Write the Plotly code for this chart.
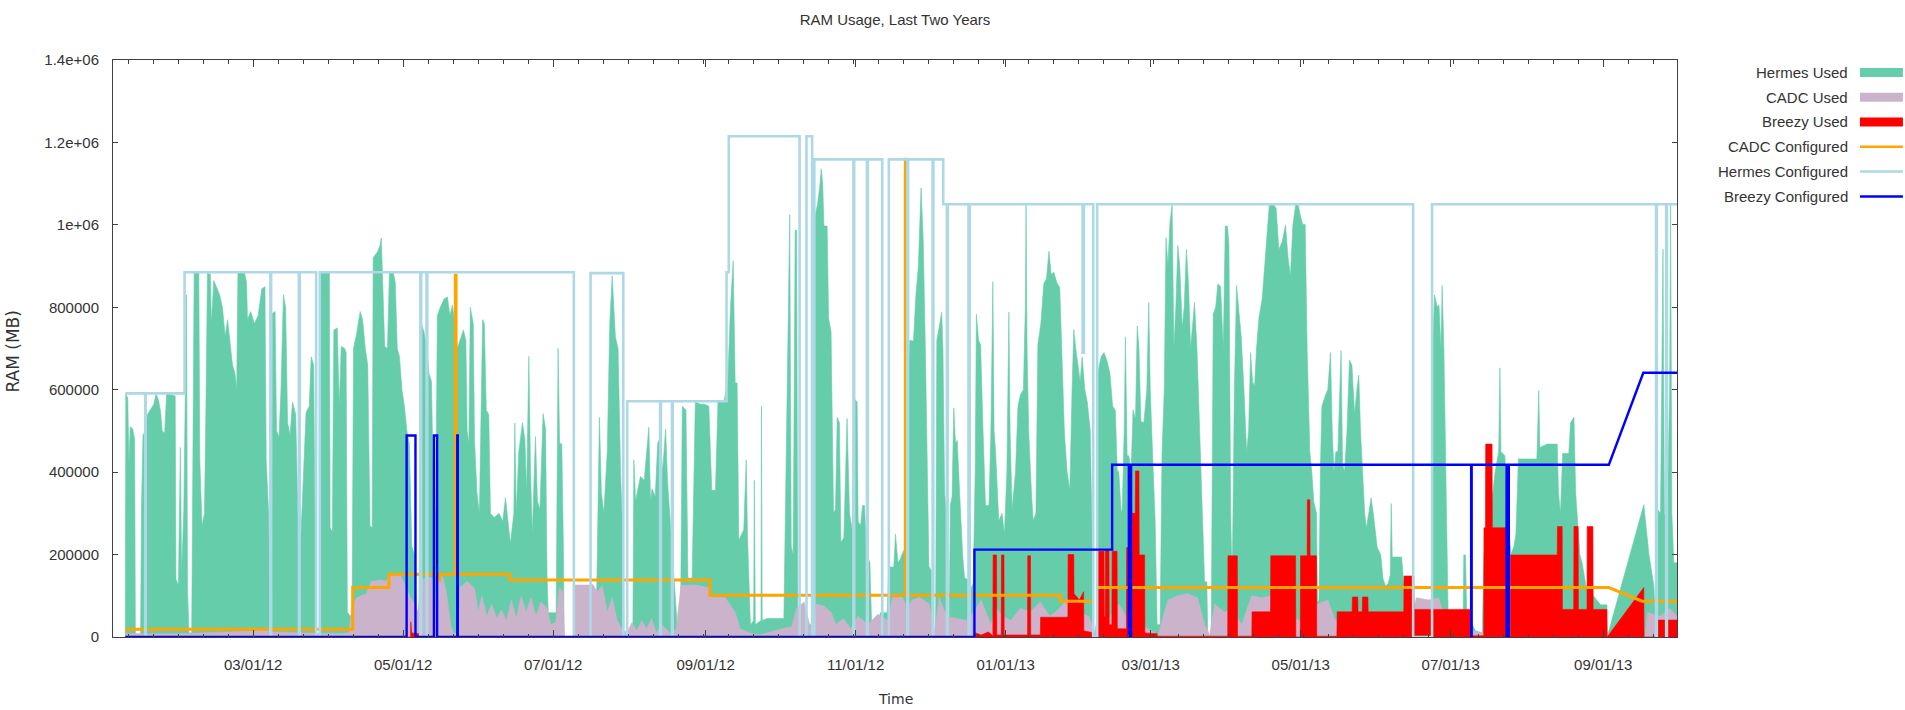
import plotly.graph_objects as go
import pandas as pd

# ---------------- data (day offsets from 2012-01-01, values in thousands of MB) ----------------
BASE_DATE = "2012-01-01"
X_START_DAY = 3.0
X_END_DAY = 639.0

hermes_used = [
    (8.0, 0), (8.2, 590), (9.0, 580), (9.5, 420), (10.0, 510), (11.0, 505), (11.8, 480), (12.1, 0),
    (14.2, 0), (14.6, 320), (15.2, 490), (16.3, 500), (17.0, 540), (18.5, 555), (19.6, 565), (20.5, 590),
    (21.5, 575), (22.4, 545), (23.0, 500), (24.0, 495), (24.8, 590), (26.5, 588), (28.3, 585), (28.6, 140),
    (29.6, 125), (30.4, 460), (30.9, 150), (31.8, 310), (32.5, 700), (32.9, 830), (33.3, 120), (33.9, 10),
    (35.0, 10), (35.6, 450), (36.0, 883), (37.9, 883), (38.3, 430), (39.2, 270), (40.2, 300), (40.8, 560),
    (41.4, 883), (42.6, 880), (43.0, 760), (44.0, 865), (45.3, 845), (46.4, 830), (47.5, 800), (48.6, 730),
    (49.6, 770), (50.7, 700), (51.6, 660), (52.6, 640), (53.3, 600), (53.8, 883), (56.5, 883), (57.3, 860),
    (57.7, 770), (59.0, 790), (60.5, 760), (62.0, 780), (63.5, 845), (64.8, 850), (65.3, 430), (66.3, 300),
    (66.9, 0), (67.4, 0), (67.8, 785), (68.9, 790), (69.5, 500), (70.5, 485), (71.3, 600), (72.3, 830),
    (73.2, 800), (74.0, 520), (75.0, 490), (76.0, 570), (77.3, 540), (78.2, 300), (78.6, 0), (79.1, 200),
    (80.1, 355), (81.5, 545), (82.8, 560), (83.6, 680), (84.6, 660), (85.2, 300), (85.6, 0), (87.1, 0),
    (87.4, 883), (91.0, 883), (91.3, 265), (92.2, 255), (92.8, 745), (94.2, 750), (95.0, 560), (95.8, 705),
    (97.2, 700), (97.8, 690), (98.3, 60), (100.2, 45), (100.8, 700), (102.2, 740), (103.5, 790), (104.5, 770),
    (105.6, 700), (106.6, 660), (107.5, 270), (108.4, 265), (108.8, 920), (110.6, 935), (111.6, 950),
    (112.1, 968), (112.6, 850), (113.5, 705), (114.6, 700), (115.4, 883), (117.0, 883), (117.8, 860),
    (118.6, 700), (119.5, 680), (120.5, 600), (121.5, 560), (122.5, 500), (123.5, 470), (124.5, 220),
    (125.6, 200), (126.6, 30), (127.3, 5), (128.4, 760), (129.5, 740), (130.5, 700), (131.5, 640),
    (132.5, 620), (133.4, 320), (134.2, 300), (134.9, 780), (136.1, 800), (137.6, 820), (139.0, 825),
    (140.0, 780), (141.0, 805), (142.0, 760), (143.0, 700), (144.1, 720), (145.5, 745), (146.5, 720),
    (147.0, 500), (147.7, 470), (148.3, 800), (149.5, 760), (150.0, 480), (151.0, 350), (152.0, 300),
    (153.3, 770), (154.0, 760), (154.8, 550), (155.8, 540), (156.5, 300), (158.0, 290), (160.0, 300),
    (161.5, 280), (162.6, 338), (163.5, 280), (164.6, 226), (166.0, 300), (166.4, 519), (167.0, 300),
    (168.0, 449), (169.5, 520), (170.5, 480), (171.2, 350), (172.1, 681), (172.8, 400), (173.5, 250),
    (174.8, 486), (175.6, 330), (176.6, 310), (177.9, 542), (178.9, 505), (179.5, 150), (180.0, 59),
    (183.2, 59), (184.0, 700), (184.6, 470), (185.5, 468), (186.2, 200), (186.4, 0), (190.4, 0),
    (190.6, 10), (199.5, 30), (200.8, 533), (201.6, 350), (202.6, 300), (204.0, 450), (205.0, 760),
    (206.0, 876), (207.3, 728), (208.4, 700), (209.4, 403), (210.5, 200), (210.8, 10), (214.4, 20),
    (214.8, 430), (215.5, 330), (217.5, 390), (219.0, 380), (220.9, 509), (221.6, 330), (222.2, 360),
    (223.5, 340), (224.5, 470), (225.6, 486), (226.5, 400), (227.7, 505), (228.5, 380), (229.7, 270),
    (231.0, 150), (232.4, 30), (233.8, 40), (234.5, 560), (236.0, 550), (236.8, 143), (238.5, 143),
    (239.8, 570), (241.9, 565), (243.5, 565), (245.3, 560), (246.5, 356), (248.0, 356), (249.0, 570),
    (251.4, 570), (253.0, 620), (254.1, 800), (255.2, 913), (256.0, 616), (256.8, 616), (257.5, 235),
    (259.5, 260), (260.5, 430), (261.0, 250), (262.2, 30), (263.5, 40), (263.8, 380), (264.2, 30),
    (266.5, 40), (266.7, 560), (267.0, 40), (269.0, 45), (275.8, 45), (276.5, 300), (277.2, 600),
    (278.0, 900), (278.2, 1025), (278.8, 220), (279.6, 200), (280.4, 987), (281.0, 987), (281.5, 30),
    (287.3, 30), (287.6, 997), (289.5, 1050), (290.5, 1100), (291.0, 1136), (291.6, 1100), (292.1, 997),
    (293.4, 997), (294.0, 774), (295.0, 740), (296.0, 300), (296.8, 310), (297.5, 533), (298.4, 520),
    (299.0, 230), (300.2, 240), (301.5, 530), (302.5, 300), (303.6, 260), (304.3, 579), (305.6, 570),
    (306.0, 280), (307.0, 270), (307.8, 319), (308.6, 319), (309.5, 200), (310.8, 180), (311.5, 30),
    (314.5, 30), (315.0, 59), (317.8, 59), (318.5, 170), (320.5, 170), (321.2, 250), (322.2, 180),
    (323.2, 190), (324.5, 210), (325.3, 170), (326.0, 574), (327.0, 720), (328.5, 718), (329.5, 830),
    (330.5, 900), (331.6, 1090), (332.5, 960), (333.4, 681), (334.3, 400), (334.8, 171), (335.8, 160),
    (336.1, 10), (337.5, 10), (338.0, 720), (338.8, 746), (340.0, 788), (340.5, 700), (341.2, 347),
    (342.0, 300), (342.4, 0), (343.0, 0), (343.5, 320), (344.2, 340), (344.9, 556), (345.6, 470),
    (346.3, 477), (347.6, 310), (348.5, 200), (349.3, 143), (350.5, 140), (350.9, 0), (351.5, 0),
    (352.0, 120), (352.8, 130), (353.6, 400), (354.1, 783), (355.0, 720), (355.8, 709), (356.8, 500),
    (357.8, 319), (359.2, 319), (360.0, 500), (360.8, 862), (361.3, 500), (361.9, 449), (363.2, 282),
    (364.5, 300), (365.5, 250), (366.5, 400), (367.3, 788), (367.8, 500), (368.6, 310), (370.0, 400),
    (371.0, 560), (372.0, 588), (373.2, 600), (374.0, 800), (374.3, 1048), (374.7, 700), (375.4, 495),
    (376.5, 350), (377.2, 282), (378.3, 300), (379.1, 709), (380.3, 760), (381.5, 857), (382.6, 870),
    (383.6, 936), (384.5, 880), (385.6, 885), (386.8, 860), (388.0, 848), (388.8, 700), (389.9, 495),
    (391.0, 400), (392.1, 356), (393.0, 600), (393.7, 746), (394.5, 700), (395.4, 653), (396.3, 620),
    (397.1, 680), (398.2, 600), (399.2, 570), (400.4, 500), (401.2, 235), (401.8, 0), (403.3, 0),
    (403.6, 644), (404.8, 680), (406.0, 690), (407.2, 670), (408.4, 640), (409.5, 560), (410.6, 550),
    (411.4, 400), (412.0, 403), (413.0, 300), (413.4, 310), (414.2, 500), (414.7, 728), (415.4, 440),
    (416.1, 440), (417.0, 400), (417.8, 551), (418.8, 530), (419.5, 755), (420.2, 700), (421.0, 523),
    (422.2, 520), (423.4, 600), (424.2, 811), (424.8, 600), (426.0, 403), (426.8, 280), (427.6, 30),
    (428.8, 30), (429.6, 449), (430.5, 600), (431.2, 969), (432.0, 900), (432.8, 1006), (433.7, 1048),
    (434.4, 700), (435.2, 800), (436.0, 950), (436.8, 900), (437.8, 750), (438.6, 800), (439.5, 941),
    (440.4, 850), (441.2, 700), (442.0, 750), (442.8, 811), (443.8, 700), (445.0, 495), (446.0, 300),
    (446.9, 134), (447.8, 134), (448.2, 0), (449.6, 0), (450.0, 500), (450.4, 783), (451.4, 800),
    (452.3, 857), (453.4, 850), (454.5, 700), (455.3, 997), (456.2, 997), (456.8, 950), (457.5, 300),
    (458.1, 125), (459.0, 600), (459.9, 853), (460.8, 800), (461.8, 728), (462.9, 600), (464.0, 449),
    (464.8, 500), (465.6, 690), (466.4, 620), (467.2, 607), (468.0, 700), (469.0, 774), (470.3, 820),
    (471.3, 900), (472.3, 1000), (473.2, 1048), (475.1, 1048), (476.0, 1040), (477.1, 940), (478.5, 960),
    (479.8, 1000), (480.8, 922), (481.8, 876), (482.8, 1000), (483.9, 1048), (485.0, 1048), (485.9, 1020),
    (486.8, 1001), (487.8, 1001), (488.6, 700), (489.7, 449), (490.5, 400), (491.3, 328), (492.4, 300),
    (492.8, 87), (493.4, 87), (494.0, 412), (494.6, 560), (496.1, 588), (497.0, 600), (498.1, 690),
    (498.8, 500), (499.5, 400), (500.3, 450), (501.1, 449), (502.0, 600), (502.4, 695), (503.0, 420),
    (503.8, 400), (504.8, 500), (505.8, 672), (506.8, 660), (507.9, 540), (508.8, 600), (509.6, 635),
    (510.3, 500), (511.0, 420), (512.0, 300), (512.7, 263), (513.6, 300), (514.6, 338), (515.5, 300),
    (516.5, 250), (517.1, 217), (518.5, 200), (519.5, 140), (520.5, 124), (521.5, 130), (522.4, 150),
    (522.8, 324), (523.2, 194), (527.0, 194), (528.0, 124), (531.6, 120), (531.7, 0), (539.4, 0),
    (539.6, 700), (540.4, 830), (541.5, 800), (542.2, 806), (543.0, 700), (543.5, 853), (544.2, 700),
    (544.9, 449), (545.5, 250), (546.0, 30), (552.0, 30), (552.3, 199), (553.0, 199), (553.5, 50),
    (555.0, 40), (557.0, 15), (559.8, 10), (560.5, 200), (563.2, 300), (565.0, 400), (566.5, 450),
    (567.0, 653), (567.4, 450), (569.0, 440), (570.0, 300), (571.5, 200), (572.7, 220), (573.5, 250),
    (574.5, 432), (582.0, 432), (582.8, 598), (583.2, 460), (586.2, 468), (590.3, 468), (590.8, 350),
    (591.6, 300), (592.5, 445), (595.0, 445), (595.7, 520), (597.1, 533), (597.8, 350), (598.4, 300),
    (599.5, 200), (600.4, 180), (602.0, 124), (603.8, 124), (605.0, 100), (607.9, 78), (610.5, 78),
    (610.6, 0), (625.5, 321), (627.6, 200), (629.6, 124), (630.5, 10), (631.0, 310), (632.3, 300),
    (633.3, 941), (633.9, 300), (635.0, 280), (636.0, 600), (636.4, 1048), (636.9, 300), (637.7, 180),
    (639.0, 180),
]

cadc_used = [
    (8.0, 0), (8.2, 8), (30.0, 8), (40.0, 10), (55.0, 12), (64.0, 15), (66.0, 22), (68.0, 12), (80.0, 10),
    (95.0, 8), (99.0, 10), (100.0, 70), (102.0, 95), (106.0, 105), (108.0, 135), (112.0, 138), (114.0, 135),
    (115.3, 148), (120.0, 150), (122.0, 124), (124.0, 95), (125.5, 82), (127.0, 60), (128.5, 140),
    (132.0, 145), (133.5, 140), (134.0, 60), (135.0, 148), (137.0, 146), (138.5, 110), (140.5, 25),
    (141.5, 8), (143.5, 15), (144.0, 120), (147.0, 135), (150.0, 118), (151.5, 60), (153.0, 100),
    (155.0, 50), (157.0, 80), (159.0, 45), (161.0, 65), (163.0, 40), (165.0, 90), (167.0, 45), (169.0, 100),
    (171.0, 60), (173.0, 95), (175.0, 50), (177.0, 85), (179.5, 70), (181.0, 30), (183.0, 35), (184.5, 120),
    (186.0, 110), (186.6, 0), (190.3, 0), (190.6, 126), (197.0, 126), (198.0, 128), (200.0, 110),
    (202.0, 125), (204.0, 60), (206.0, 95), (208.0, 40), (210.0, 20), (212.0, 10), (214.0, 35), (216.0, 15),
    (218.0, 40), (220.0, 20), (222.0, 45), (224.0, 10), (226.0, 30), (228.0, 20), (230.0, 5), (232.0, 20),
    (234.0, 126), (240.0, 126), (245.0, 120), (246.0, 97), (252.0, 95), (256.0, 60), (258.0, 20),
    (262.0, 10), (266.0, 5), (270.0, 12), (275.0, 20), (279.0, 25), (281.0, 70), (284.0, 85), (286.0, 40),
    (287.3, 5), (289.0, 80), (292.0, 75), (295.0, 60), (297.0, 30), (300.0, 45), (303.0, 20), (306.0, 50),
    (310.0, 30), (314.0, 55), (318.0, 40), (320.0, 95), (324.0, 97), (326.0, 70), (328.0, 90), (331.0, 96),
    (335.0, 80), (337.0, 10), (339.0, 95), (342.0, 50), (346.0, 45), (350.0, 40), (353.0, 60), (356.0, 90),
    (360.0, 30), (362.0, 70), (365.0, 50), (368.0, 40), (372.0, 70), (376.0, 60), (380.0, 85), (384.0, 50),
    (388.0, 70), (392.0, 100), (396.0, 60), (400.0, 50), (402.0, 10), (404.0, 60), (408.0, 45), (412.0, 80),
    (416.0, 40), (420.0, 30), (424.0, 20), (428.0, 5), (432.0, 90), (436.0, 100), (440.0, 105), (444.0, 95),
    (447.0, 30), (449.0, 5), (451.0, 80), (455.0, 60), (458.0, 70), (462.0, 30), (466.0, 100), (470.0, 95),
    (474.0, 100), (478.0, 90), (480.0, 60), (485.0, 40), (490.0, 50), (493.0, 80), (497.0, 90), (500.0, 40),
    (505.0, 30), (515.0, 20), (525.0, 30), (531.0, 40), (533.0, 95), (538.0, 90), (542.0, 95), (545.0, 40),
    (550.0, 20), (560.0, 10), (570.0, 15), (590.0, 20), (605.0, 20), (611.0, 10), (615.0, 0), (626.0, 0),
    (627.0, 60), (632.0, 50), (636.0, 70), (639.0, 50),
]

breezy_used = [
    (8.0, 0), (124.0, 0), (124.1, 37), (124.5, 10), (127.3, 8), (127.4, 0), (142.9, 0), (143.0, 6),
    (143.3, 0), (353.5, 0), (353.7, 10), (356.0, 5), (359.0, 12), (360.8, 3), (360.9, 199), (362.3, 199),
    (362.4, 5), (364.2, 5), (364.3, 199), (365.3, 199), (365.4, 5), (374.9, 5), (375.0, 197), (376.1, 197),
    (376.2, 5), (380.1, 5), (380.2, 48), (391.3, 48), (391.4, 200), (393.7, 200), (393.8, 105), (396.0, 90),
    (397.7, 110), (397.8, 15), (401.8, 10), (401.9, 0), (403.4, 0), (403.5, 208), (406.0, 208), (406.1, 50),
    (406.5, 50), (406.6, 210), (408.0, 210), (408.1, 30), (409.2, 30), (409.3, 208), (411.3, 208),
    (411.4, 20), (415.1, 20), (415.2, 217), (416.5, 217), (416.6, 0), (417.4, 0), (417.5, 300), (418.7, 300),
    (418.8, 403), (420.2, 403), (420.3, 199), (422.5, 199), (422.6, 10), (427.6, 8), (427.7, 2), (456.3, 2),
    (456.4, 197), (460.2, 197), (460.3, 2), (466.1, 2), (466.2, 61), (473.7, 61), (473.8, 197), (483.9, 197),
    (484.0, 0), (485.8, 0), (485.9, 197), (488.6, 197), (488.7, 333), (489.7, 333), (489.8, 197),
    (492.4, 197), (492.5, 2), (500.7, 2), (500.8, 61), (506.9, 61), (507.0, 97), (509.2, 97), (509.3, 61),
    (511.0, 61), (511.1, 97), (513.3, 97), (513.4, 61), (527.9, 61), (528.0, 148), (532.0, 148), (532.1, 67),
    (555.0, 67), (555.1, 3), (560.4, 3), (560.5, 265), (561.1, 265), (561.2, 468), (563.8, 468),
    (563.9, 265), (569.7, 265), (569.8, 0), (571.2, 0), (571.3, 199), (590.3, 199), (590.4, 268),
    (592.3, 268), (592.4, 67), (597.0, 67), (597.1, 268), (598.8, 268), (598.9, 67), (602.4, 67),
    (602.5, 268), (604.8, 268), (604.9, 67), (610.5, 67), (610.6, 0), (625.5, 120), (625.6, 0), (630.9, 0),
    (631.0, 41), (639.0, 41),
]

cadc_configured = [
    (8.0, 18.6), (100.5, 18.6), (100.5, 120), (115.2, 120), (115.2, 152), (135.4, 152), (135.4, 138),
    (135.9, 138), (135.9, 152), (142.2, 152), (142.2, 878), (142.5, 878), (142.5, 152), (164.4, 152),
    (164.4, 138), (245.7, 138), (245.7, 101), (325.2, 101), (325.2, 1159), (325.4, 1159), (325.4, 101),
    (388.3, 101), (388.3, 87), (401.9, 87), None, (403.5, 120), (611.3, 120), (624.8, 87), (639.0, 87),
]

hermes_configured = [
    (8.0, 591), (16.1, 591), (16.1, 0), (16.3, 0), (16.3, 591), (32.1, 591), (32.1, 885), (67.0, 885),
    (67.0, 0), (67.3, 0), (67.3, 885), (78.6, 885), (78.6, 0), (78.9, 0), (78.9, 885), (85.6, 885),
    (85.6, 0), (87.1, 0), (87.1, 885), (128.0, 885), (128.0, 0), (128.3, 0), (128.3, 885), (130.5, 885),
    (130.5, 0), (130.8, 0), (130.8, 885), (190.4, 885), (190.4, 0), (197.2, 0), (197.2, 883), (210.5, 883),
    (210.5, 0), (212.1, 0), (212.1, 572), (225.5, 572), (225.5, 0), (225.8, 0), (225.8, 572), (230.3, 572),
    (230.3, 0), (230.6, 0), (230.6, 572), (252.5, 572), (252.5, 885), (253.4, 885), (253.4, 1215),
    (282.2, 1215), (282.2, 0), (285.0, 0), (285.0, 1215), (287.3, 1215), (287.3, 0), (288.2, 0),
    (288.2, 1159), (304.1, 1159), (304.1, 0), (304.4, 0), (304.4, 1159), (309.6, 1159), (309.6, 0),
    (309.9, 0), (309.9, 1159), (315.8, 1159), (315.8, 0), (318.5, 0), (318.5, 1159), (326.0, 1159),
    (326.0, 0), (326.3, 0), (326.3, 1159), (336.3, 1159), (336.3, 0), (336.6, 0), (336.6, 1159),
    (340.6, 1159), (340.6, 1050), (342.1, 1050), (342.1, 0), (342.4, 0), (342.4, 1050), (350.9, 1050),
    (350.9, 0), (351.4, 0), (351.4, 1050), (397.3, 1050), (397.3, 690), (397.8, 690), (397.8, 1050),
    (401.6, 1050), (401.6, 0), (403.2, 0), (403.2, 1050), (531.7, 1050), (531.7, 0), (539.4, 0),
    (539.4, 1050), (630.5, 1050), (630.5, 0), (630.8, 0), (630.8, 1050), (634.6, 1050), (634.6, 0),
    (634.9, 0), (634.9, 1050), (639.0, 1050),
]

breezy_configured = [
    (8.0, 0), (122.4, 0), (122.4, 489), (126.0, 489), (126.0, 0), (133.5, 0), (133.5, 489), (134.8, 489),
    (134.8, 0), (143.0, 0), (143.0, 489), (143.2, 489), (143.2, 0), (353.3, 0), (353.3, 212), (409.3, 212),
    (409.3, 418), (416.1, 418), (416.1, 0), (417.0, 0), (417.0, 418), (555.3, 418), (555.3, 0), (555.5, 0),
    (555.5, 418), (569.7, 418), (569.7, 0), (570.6, 0), (570.6, 418), (611.3, 418), (625.3, 641),
    (639.0, 641),
]

series_names = ["Hermes Used", "CADC Used", "Breezy Used",
                "CADC Configured", "Hermes Configured", "Breezy Configured"]
series_colors = ["#66cdaa", "#cbb4cb", "#ff0000", "#ffa500", "#add8e6", "#0000ff"]

y_tick_values = [0, 200000, 400000, 600000, 800000, 1000000, 1200000, 1400000]
y_tick_labels = ["0", "200000", "400000", "600000", "800000", "1e+06", "1.2e+06", "1.4e+06"]

TITLE = "RAM Usage, Last Two Years"
X_TITLE = "Time"
Y_TITLE = "RAM (MB)"

# ---------------- build ----------------
base = pd.Timestamp(BASE_DATE)


def to_xy(pairs):
    xs, ys = [], []
    for p in pairs:
        if p is None:
            xs.append(None)
            ys.append(None)
        else:
            xs.append(base + pd.Timedelta(days=p[0]))
            ys.append(p[1] * 1000)
    return xs, ys


FONT = "Liberation Sans, Arial, sans-serif"
FS = 15
TXT = "#333333"
AX = "#404040"

fig = go.Figure()

fills = [hermes_used, cadc_used, breezy_used]
for i, data in enumerate(fills):
    x, y = to_xy(data)
    fig.add_trace(go.Scatter(x=x, y=y, mode="lines", name=series_names[i],
                             line=dict(color=series_colors[i], width=0.6),
                             fill="tozeroy", fillcolor=series_colors[i], hoverinfo="skip"))

lines = [(cadc_configured, 3, 3), (hermes_configured, 4, 2.6), (breezy_configured, 5, 2.4)]
for data, idx, w in lines:
    x, y = to_xy(data)
    fig.add_trace(go.Scatter(x=x, y=y, mode="lines", name=series_names[idx],
                             line=dict(color=series_colors[idx], width=w),
                             connectgaps=False, hoverinfo="skip"))

L, R, T, B = 112.5, 1677.0, 60.0, 637.0
PW, PH = R - L, B - T


def px_x(px):
    return (px - L) / PW


def px_y(py):
    return (B - py) / PH


annotations = []
shapes = []
legend_rows = [72.5, 97.3, 122.0, 146.8, 171.6, 196.4]
for i, name in enumerate(series_names):
    yy = px_y(legend_rows[i])
    annotations.append(dict(text=name, x=px_x(1850), y=yy, xref="paper", yref="paper",
                            xanchor="right", yanchor="middle", showarrow=False,
                            font=dict(family=FONT, size=FS, color=TXT)))
    if i < 3:
        shapes.append(dict(type="rect", xref="paper", yref="paper",
                           x0=px_x(1860), x1=px_x(1903), y0=px_y(legend_rows[i] + 4.5),
                           y1=px_y(legend_rows[i] - 4.5), fillcolor=series_colors[i],
                           line=dict(width=0)))
    else:
        shapes.append(dict(type="line", xref="paper", yref="paper",
                           x0=px_x(1860), x1=px_x(1903), y0=yy, y1=yy,
                           line=dict(color=series_colors[i], width=2.5)))

annotations.append(dict(text=X_TITLE, x=0.5, y=px_y(699), xref="paper", yref="paper",
                        xanchor="center", yanchor="middle", showarrow=False,
                        font=dict(family="DejaVu Sans", size=14, color=TXT)))
annotations.append(dict(text=Y_TITLE, x=px_x(12), y=px_y(352), xref="paper", yref="paper",
                        xanchor="center", yanchor="middle", showarrow=False, textangle=-90,
                        font=dict(family="DejaVu Sans", size=17, color=TXT)))

fig.update_layout(
    width=1905, height=710,
    margin=dict(l=L, r=1905 - R, t=T, b=710 - B, pad=0),
    plot_bgcolor="white", paper_bgcolor="white",
    showlegend=False,
    font=dict(family=FONT, size=FS, color=TXT),
    title=dict(text=TITLE, x=0.5, xref="paper", xanchor="center",
               y=1 - 20 / 710, yref="container", yanchor="middle",
               font=dict(family=FONT, size=FS, color=TXT)),
    annotations=annotations,
    shapes=shapes,
    xaxis=dict(
        type="date",
        range=[base + pd.Timedelta(days=X_START_DAY), base + pd.Timedelta(days=X_END_DAY)],
        tick0="2012-03-01", dtick="M2", tickformat="%m/%d/%y",
        ticks="inside", ticklen=7, tickwidth=1, tickcolor=AX,
        showline=True, linecolor=AX, linewidth=1, mirror="ticks",
        showgrid=False, zeroline=False,
        ticklabelstandoff=14,
        tickfont=dict(family=FONT, size=FS, color=TXT),
        minor=dict(ticks="inside", ticklen=3.5, tickcolor=AX, tickwidth=1,
                   tick0="2012-03-01", dtick=61 / 6 * 86400000, showgrid=False),
    ),
    yaxis=dict(
        range=[0, 1400000],
        tickvals=y_tick_values, ticktext=y_tick_labels,
        ticks="inside", ticklen=5, tickwidth=1, tickcolor=AX,
        showline=True, linecolor=AX, linewidth=1, mirror="ticks",
        showgrid=False, zeroline=False,
        ticklabelstandoff=10,
        tickfont=dict(family=FONT, size=FS, color=TXT),
    ),
)

fig.write_html("out.html")
